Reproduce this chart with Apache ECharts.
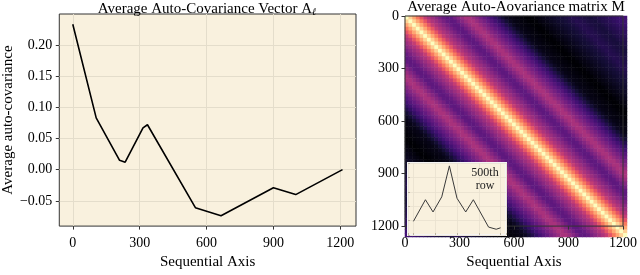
<!DOCTYPE html>
<html>
<head>
<meta charset="utf-8">
<script src="https://cdn.jsdelivr.net/npm/echarts@6/dist/echarts.min.js"></script>
<style>
html,body{margin:0;padding:0;background:#fff;}
#c{width:640px;height:275px;}
</style>
</head>
<body>
<div id="c"></div>
<script>
// ---- Left panel: average auto-covariance vector ----
const seqX = [0, 105, 210, 235, 315, 335, 550, 665, 900, 1000, 1210];
const autoCov = [0.233, 0.083, 0.015, 0.012, 0.067, 0.072, -0.061, -0.074, -0.029, -0.040, 0.000];
const leftXTicks = [0, 300, 600, 900, 1200];
const leftYTicks = [-0.05, 0.00, 0.05, 0.10, 0.15, 0.20];

// ---- Right panel: matrix M, value by lag |i-j| (lags 0..1200 step 20) ----
const lagProfile = [0.233,0.204,0.176,0.147,0.119,0.090,0.073,0.060,0.047,0.034,
  0.021,0.014,0.016,0.030,0.044,0.058,0.069,0.069,0.057,0.044,
  0.032,0.019,0.007,-0.006,-0.018,-0.031,-0.043,-0.055,-0.062,-0.064,
  -0.067,-0.069,-0.071,-0.073,-0.071,-0.067,-0.064,-0.060,-0.056,-0.052,
  -0.048,-0.044,-0.041,-0.037,-0.033,-0.029,-0.031,-0.033,-0.036,-0.038,
  -0.040,-0.036,-0.032,-0.029,-0.025,-0.021,-0.017,-0.013,-0.010,-0.006,-0.002];
const matrixTicks = [0, 300, 600, 900, 1200];

// ---- Inset: 500th row ----
const insetX = [0, 55, 90, 130, 165, 200, 240, 275, 345, 380, 400];
const insetY = [0.19, 0.49, 0.32, 0.53, 0.96, 0.51, 0.32, 0.49, 0.11, 0.08, 0.10];

const magma = ['#000004','#140e36','#3b0f70','#641a80','#8c2981','#b73779','#de4968','#f7705c','#fe9f6d','#fecf92','#fcfdbf'];

const nCells = 60;
const cellCats = [];
for (let k = 0; k < nCells; k++) cellCats.push(String(k));
const heatData = [];
for (let i = 0; i < nCells; i++) {
  for (let j = 0; j < nCells; j++) {
    heatData.push([j, i, lagProfile[Math.abs(i - j)]]);
  }
}
const mMin = Math.min.apply(null, lagProfile);
const mMax = Math.max.apply(null, lagProfile);

const FONT = 'Liberation Serif';
const cream = '#f9f1de';
const spine = '#333333';
const gridLine = '#e4ddcb';

const fmt = v => (v < 0 ? '\u2212' : '') + Math.abs(v).toFixed(2);
const intFmt = v => String(Math.round(v));

const chart = echarts.init(document.getElementById('c'), null, {renderer: 'canvas'});
chart.setOption({
  animation: false,
  backgroundColor: '#ffffff',
  title: [
    {
      text: '{t|Average Auto-Covariance Vector A}{s|\u2113}',
      left: 207, top: 1, padding: 0, textAlign: 'center',
      textStyle: {
        fontWeight: 'normal',
        rich: {
          t: {fontFamily: FONT, fontSize: 15, fontWeight: 'normal', color: '#000'},
          s: {fontFamily: 'DejaVu Serif', fontSize: 10, fontStyle: 'italic', fontWeight: 'normal', color: '#000', padding: [6, 0, 0, 0]}
        }
      }
    },
    {
      text: 'Average Auto-Aovariance matrix M',
      left: 516, top: 0, padding: 0, textAlign: 'center',
      textStyle: {fontFamily: FONT, fontSize: 15, fontWeight: 'normal', color: '#000'}
    }
  ],
  grid: [
    {left: 58, top: 14, width: 298, height: 224, show: true, backgroundColor: cream, borderColor: spine, borderWidth: 1},
    {left: 405, top: 16, width: 222, height: 221},
    {left: 405, top: 16, width: 222, height: 221, show: true, backgroundColor: 'transparent', borderColor: spine, borderWidth: 1, z: 4},
    {left: 408, top: 163, width: 98, height: 72, show: true, backgroundColor: cream, borderColor: '#f4f4f4', borderWidth: 2, z: 5}
  ],
  visualMap: {
    type: 'continuous', show: false, min: mMin, max: mMax, seriesIndex: 1,
    inRange: {color: magma}
  },
  xAxis: [
    {
      gridIndex: 0, type: 'value', min: -60.5, max: 1270.5,
      name: 'Sequential Axis', nameLocation: 'middle', nameGap: 26,
      nameTextStyle: {fontFamily: FONT, fontSize: 15, color: '#000'},
      axisLine: {show: false, onZero: false},
      axisTick: {show: true, inside: false, length: 3.5, lineStyle: {color: spine}, customValues: leftXTicks},
      axisLabel: {fontFamily: FONT, fontSize: 14, color: '#000', margin: 10, formatter: intFmt, customValues: leftXTicks},
      splitLine: {show: true, lineStyle: {color: gridLine, width: 1}}
    },
    {gridIndex: 1, type: 'category', data: cellCats, show: false},
    {
      gridIndex: 2, type: 'value', min: 0, max: 1200, position: 'bottom', z: 4,
      name: 'Sequential Axis', nameLocation: 'middle', nameGap: 26,
      nameTextStyle: {fontFamily: FONT, fontSize: 15, color: '#000'},
      axisLine: {show: false, onZero: false},
      axisTick: {show: true, inside: false, length: 3.5, lineStyle: {color: spine}, customValues: matrixTicks},
      axisLabel: {fontFamily: FONT, fontSize: 14, color: '#000', margin: 10, formatter: intFmt, customValues: matrixTicks},
      splitLine: {show: false}
    },
    {
      gridIndex: 3, type: 'value', min: -25, max: 425, z: 6,
      axisLine: {show: false, onZero: false},
      axisTick: {show: true, inside: true, length: 2, lineStyle: {color: '#bbb3a0'}},
      axisLabel: {show: false},
      splitLine: {show: true, lineStyle: {color: '#e8e1cf', width: 0.8}}
    }
  ],
  yAxis: [
    {
      gridIndex: 0, type: 'value', min: -0.0905, max: 0.2495,
      name: 'Average auto-covariance', nameLocation: 'middle', nameGap: 40,
      nameTextStyle: {fontFamily: FONT, fontSize: 15, color: '#000'},
      axisLine: {show: false, onZero: false},
      axisTick: {show: true, inside: false, length: 3.5, lineStyle: {color: spine}, customValues: leftYTicks},
      axisLabel: {fontFamily: FONT, fontSize: 14, color: '#000', margin: 7, formatter: fmt, customValues: leftYTicks},
      splitLine: {show: true, lineStyle: {color: gridLine, width: 1}}
    },
    {gridIndex: 1, type: 'category', data: cellCats, inverse: true, show: false},
    {
      gridIndex: 2, type: 'value', min: 0, max: 1200, inverse: true, position: 'left', z: 4,
      axisLine: {show: false, onZero: false},
      axisTick: {show: true, inside: false, length: 3.5, lineStyle: {color: spine}, customValues: matrixTicks},
      axisLabel: {fontFamily: FONT, fontSize: 14, color: '#000', margin: 6, formatter: intFmt, customValues: matrixTicks},
      splitLine: {show: false}
    },
    {
      gridIndex: 3, type: 'value', min: 0, max: 1, z: 6,
      axisLine: {show: false, onZero: false},
      axisTick: {show: true, inside: true, length: 2, lineStyle: {color: '#bbb3a0'}},
      axisLabel: {show: false},
      splitLine: {show: true, lineStyle: {color: '#e8e1cf', width: 0.8}}
    }
  ],
  series: [
    {
      type: 'line', xAxisIndex: 0, yAxisIndex: 0,
      data: seqX.map((x, k) => [x, autoCov[k]]),
      showSymbol: false, lineStyle: {color: '#000', width: 1.6}, z: 3
    },
    {
      type: 'heatmap', xAxisIndex: 1, yAxisIndex: 1,
      data: heatData, itemStyle: {borderWidth: 0}, progressive: 0, emphasis: {disabled: true}
    },
    {
      type: 'line', xAxisIndex: 3, yAxisIndex: 3, z: 7,
      data: insetX.map((x, k) => [x, insetY[k]]),
      showSymbol: false, lineStyle: {color: '#3a3a3a', width: 1}
    }
  ],
  graphic: [
    {
      type: 'text', z: 100, x: 485, y: 166,
      style: {text: '500th\nrow', fontFamily: FONT, fontSize: 12, fill: '#222', align: 'center', lineHeight: 13}
    }
  ]
});
</script>
</body>
</html>
